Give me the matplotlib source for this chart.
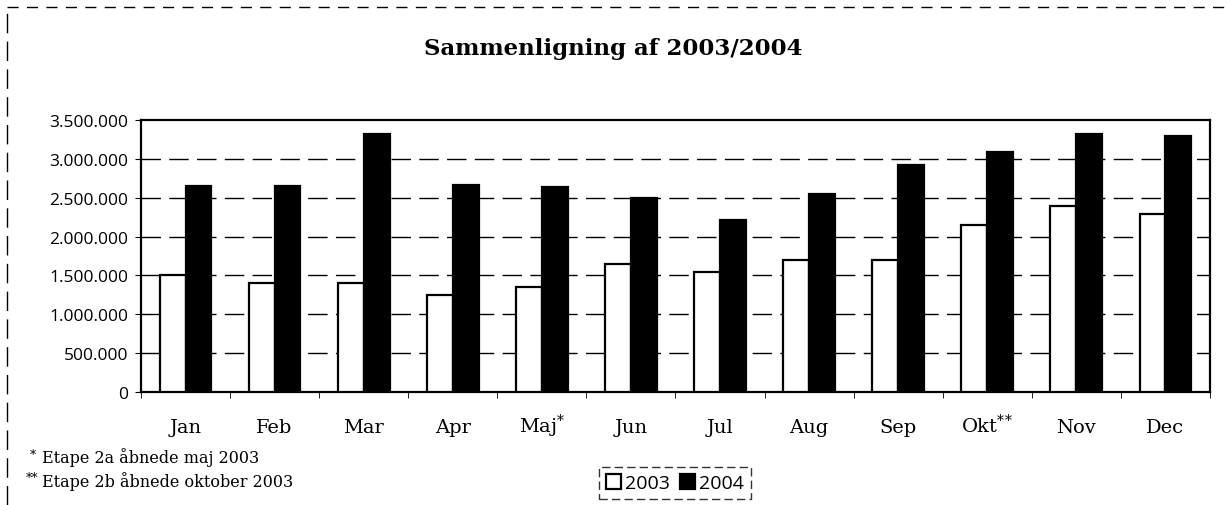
import numpy as np
import matplotlib.pyplot as plt
from matplotlib.lines import Line2D

months = ["Jan", "Feb", "Mar", "Apr", "Maj$^{*}$", "Jun", "Jul", "Aug", "Sep", r"Okt$^{*\!*}$", "Nov", "Dec"]
v2003 = [1500000, 1400000, 1400000, 1250000, 1350000, 1645000, 1545000, 1695000, 1695000, 2145000, 2395000, 2295000]
v2004 = [2650000, 2645000, 3315000, 2665000, 2640000, 2490000, 2210000, 2548000, 2915000, 3085000, 3318000, 3290000]
yticks = [0, 500000, 1000000, 1500000, 2000000, 2500000, 3000000, 3500000]

serif = "DejaVu Serif"
sans = "Open Sans"
plt.rcParams["mathtext.fontset"] = "dejavuserif"

fig = plt.figure(figsize=(12.27, 5.06), dpi=100)
ax = fig.add_axes([0.1149, 0.2233, 0.8712, 0.5376])

x = np.arange(len(months))
w = 0.29
b1 = ax.bar(x - w / 2, v2003, w, color="white", edgecolor="black", linewidth=1.6, zorder=3, label="2003")
b2 = ax.bar(x + w / 2, v2004, w, color="black", edgecolor="black", linewidth=1.6, zorder=3, label="2004")

ax.set_xlim(-0.5, len(months) - 0.5)
ax.set_ylim(0, 3500000)
ax.set_yticks(yticks)
ax.set_yticklabels([f"{v:,}".replace(",", ".") for v in yticks], fontfamily=sans, fontsize=12.5)

# gridlines, dashed
for v in yticks[1:-1]:
    ax.axhline(v, color="black", linewidth=1, linestyle=(0, (14, 6)), zorder=1)

ax.set_xticks(x)
ax.set_xticklabels(months, fontfamily=serif, fontsize=14)
for lbl in ax.get_xticklabels():
    lbl.set_verticalalignment("baseline")
ax.tick_params(axis="x", length=0, pad=29)
ax.set_xticks(np.arange(-0.5, len(months), 1), minor=True)
ax.tick_params(axis="x", which="minor", length=4, direction="out")
ax.tick_params(axis="y", length=4, direction="out", pad=5)

for s in ax.spines.values():
    s.set_linewidth(1.6)
    s.set_color("black")

fig.text(0.5, 0.903, "Sammenligning af 2003/2004", ha="center", va="center",
         fontfamily=serif, fontsize=16.5, fontweight="bold")

fig.text(0.024, 0.100, "*", fontfamily=serif, fontsize=9, va="center")
fig.text(0.034, 0.095, "Etape 2a åbnede maj 2003", fontfamily=serif, fontsize=11.5, va="center")
fig.text(0.021, 0.054, "**", fontfamily=serif, fontsize=9, va="center")
fig.text(0.034, 0.049, "Etape 2b åbnede oktober 2003", fontfamily=serif, fontsize=11.5, va="center")

leg = fig.legend(handles=[b1, b2], labels=["2003", "2004"], loc="center",
                 bbox_to_anchor=(0.550, 0.044), ncol=2, frameon=True, fancybox=False,
                 edgecolor="black", handlelength=0.8, handleheight=0.8, handletextpad=0.2,
                 columnspacing=0.5, borderpad=0.35, prop={"family": sans, "size": 14})
leg.get_frame().set_linestyle((0, (6, 3)))
leg.get_frame().set_linewidth(1)

# dashed outer border (top and left only visible)
fig.add_artist(Line2D([0.006, 1.0], [0.984, 0.984], transform=fig.transFigure,
                      color="black", linewidth=1, linestyle=(0, (8, 6))))
fig.add_artist(Line2D([0.006, 0.006], [0.0, 0.984], transform=fig.transFigure,
                      color="black", linewidth=1, linestyle=(0, (14, 6))))

fig.savefig("out.png", dpi=100)
